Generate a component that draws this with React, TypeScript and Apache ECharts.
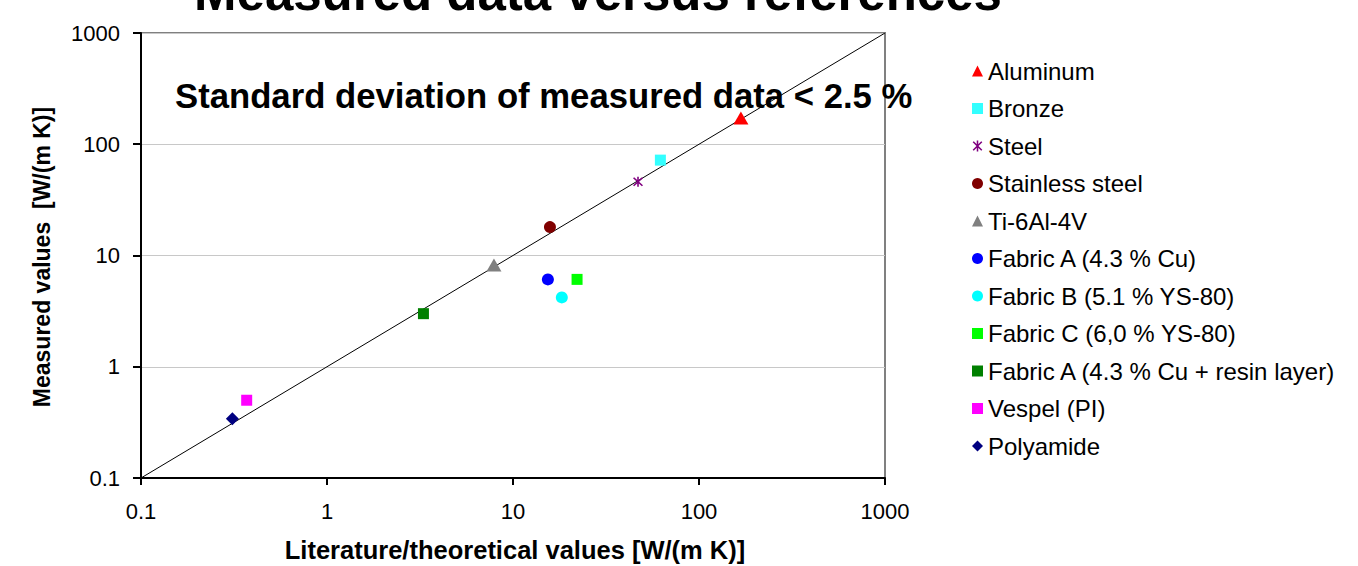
import React, { useEffect, useRef } from "react";
import * as echarts from "echarts";

const seriesNames = [
  "Aluminum",
  "Bronze",
  "Steel",
  "Stainless steel",
  "Ti-6Al-4V",
  "Fabric A (4.3 % Cu)",
  "Fabric B (5.1 % YS-80)",
  "Fabric C (6,0 % YS-80)",
  "Fabric A (4.3 % Cu + resin layer)",
  "Vespel (PI)",
  "Polyamide",
];
// literature / theoretical values [W/(m K)]
const literatureValues = [168, 62, 47, 15.8, 7.9, 15.4, 18.3, 22.1, 3.3, 0.37, 0.31];
// measured values [W/(m K)]
const measuredValues = [172, 72, 46, 18, 8.2, 6.1, 4.2, 6.1, 3.0, 0.5, 0.34];
const seriesColors = [
  "#FF0000",
  "#33FFFF",
  "#800080",
  "#800000",
  "#808080",
  "#0000FF",
  "#00FFFF",
  "#00FF00",
  "#008000",
  "#FF00FF",
  "#000080",
];
const asterisk =
  "path://M4.3 0L5.7 0L5.7 10L4.3 10ZM0.6 1.6L1.6 0.6L9.4 8.4L8.4 9.4ZM8.4 0.6L9.4 1.6L1.6 9.4L0.6 8.4Z";
const seriesSymbols = [
  "triangle",
  "rect",
  asterisk,
  "circle",
  "triangle",
  "circle",
  "circle",
  "rect",
  "rect",
  "rect",
  "diamond",
];
const symbolSizes: (number | number[])[] = [
  [15, 13],
  11,
  10,
  12,
  [15, 13],
  12,
  12,
  11,
  11,
  11,
  13,
];
const referenceLine = [
  [0.1, 0.1],
  [1000, 1000],
];
const axisMin = 0.1;
const axisMax = 1000;

const FONT = "'Liberation Sans', Arial, sans-serif";

const fmt = (v: number) =>
  v >= 1 ? String(Math.round(v)) : String(Number(v.toPrecision(3)));

export default function App() {
  const ref = useRef<HTMLDivElement>(null);
  useEffect(() => {
    if (!ref.current) return;
    const chart = echarts.init(ref.current, undefined, { renderer: "svg" });
    const scatterSeries = seriesNames.map((name, i) => ({
      name,
      type: "scatter",
      data: [[literatureValues[i], measuredValues[i]]],
      symbol: seriesSymbols[i],
      symbolSize: symbolSizes[i],
      itemStyle: { color: seriesColors[i], opacity: 1 },
      z: 3,
    }));
    chart.setOption({
      animation: false,
      backgroundColor: "#ffffff",
      textStyle: { fontFamily: FONT },
      grid: {
        left: 141,
        right: 473,
        top: 33,
        bottom: 88,
        show: true,
        borderColor: "#808080",
        borderWidth: 2,
        backgroundColor: "transparent",
        outerBoundsMode: "none",
      },
      xAxis: {
        type: "log",
        logBase: 10,
        min: axisMin,
        max: axisMax,
        interval: 1,
        axisLine: { show: true, lineStyle: { color: "#000000", width: 2 } },
        axisTick: { show: true, inside: false, length: 7, lineStyle: { color: "#000000", width: 2 } },
        axisLabel: { fontSize: 22, color: "#000000", margin: 22, fontFamily: FONT, formatter: fmt },
        splitLine: { show: false },
        minorTick: { show: false },
      },
      yAxis: {
        type: "log",
        logBase: 10,
        min: axisMin,
        max: axisMax,
        interval: 1,
        axisLine: { show: true, lineStyle: { color: "#000000", width: 2 } },
        axisTick: { show: true, inside: false, length: 8, lineStyle: { color: "#000000", width: 2 } },
        axisLabel: { fontSize: 22, color: "#000000", margin: 21, fontFamily: FONT, formatter: fmt },
        splitLine: { show: true, lineStyle: { color: "#c8c8c8", width: 1 } },
        minorTick: { show: false },
      },
      legend: {
        data: seriesNames,
        orient: "vertical",
        left: 967,
        top: 54,
        itemWidth: 11,
        itemHeight: 11,
        itemGap: 13.5,
        selectedMode: false,
        textStyle: { fontSize: 24, lineHeight: 24, color: "#000000", fontFamily: FONT },
      },
      graphic: [
        {
          type: "text",
          x: 598,
          y: -8,
          style: {
            text: "Measured data versus references",
            font: `bold 51px ${FONT}`,
            fill: "#000000",
            textAlign: "center",
            textVerticalAlign: "middle",
          },
        },
        {
          type: "text",
          x: 175,
          y: 96,
          style: {
            text: "Standard deviation of measured data < 2.5 %",
            font: `bold 34.7px ${FONT}`,
            fill: "#000000",
            textAlign: "left",
            textVerticalAlign: "middle",
          },
        },
        {
          type: "text",
          x: 515,
          y: 550,
          style: {
            text: "Literature/theoretical values [W/(m K)]",
            font: `bold 25.5px ${FONT}`,
            fill: "#000000",
            textAlign: "center",
            textVerticalAlign: "middle",
          },
        },
        {
          type: "text",
          x: 42,
          y: 257,
          rotation: Math.PI / 2,
          style: {
            text: "Measured values  [W/(m K)]",
            font: `bold 23px ${FONT}`,
            fill: "#000000",
            textAlign: "center",
            textVerticalAlign: "middle",
          },
        },
      ],
      series: [
        {
          name: "reference",
          type: "line",
          data: referenceLine,
          symbol: "none",
          lineStyle: { color: "#000000", width: 1 },
          z: 2,
          silent: true,
        },
        ...scatterSeries,
      ],
    });
    return () => chart.dispose();
  }, []);
  return (
    <div
      ref={ref}
      style={{ position: "fixed", left: 0, top: 0, width: 1358, height: 566 }}
    />
  );
}
